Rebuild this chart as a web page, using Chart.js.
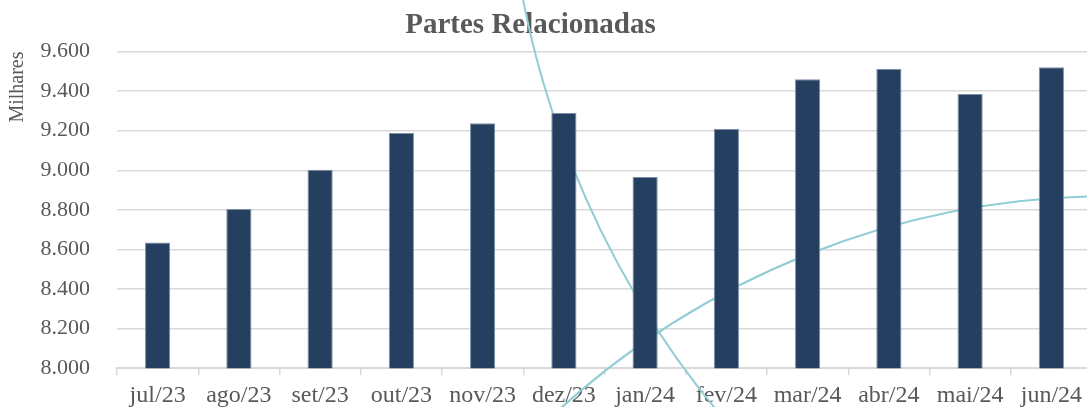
<!DOCTYPE html>
<html>
<head>
<meta charset="utf-8">
<script src="https://cdn.jsdelivr.net/npm/chart.js@4.4.1/dist/chart.umd.min.js"></script>
<style>
html,body{margin:0;padding:0;background:#fff;overflow:hidden}
#wrap{position:relative;width:1087px;height:407px;overflow:hidden}
#chart{position:absolute;left:-31px;top:0}
</style>
</head>
<body>
<div id="wrap"><canvas id="chart" width="1123" height="416"></canvas></div>
<script>
let meses = ["jul/23","ago/23","set/23","out/23","nov/23","dez/23","jan/24","fev/24","mar/24","abr/24","mai/24","jun/24"];
let valores = [8635, 8804, 9002, 9188, 9238, 9289, 8966, 9209, 9460, 9512, 9385, 9521];
let yMin = 8000, yMax = 9600, yPasso = 200;

const cinza = "#595959";
const serif = "'Liberation Serif', 'Times New Roman', serif";

function fmt(v){
  // 9600 -> "9.600"
  let s = Math.round(v).toString();
  return s.replace(/\B(?=(\d{3})+(?!\d))/g, ".");
}

// the two thin teal arcs in the background of the original picture
const arcos = {
  id: "arcos",
  beforeDatasetsDraw(c){
    const ctx = c.ctx;
    ctx.save();
    ctx.strokeStyle = "#91CDD4";
    ctx.lineWidth = 2;
    ctx.beginPath();
    ctx.arc(1464, -178, 927, 0, Math.PI*2);
    ctx.stroke();
    ctx.beginPath();
    ctx.arc(1143, 1018, 822, 0, Math.PI*2);
    ctx.stroke();
    ctx.restore();
  }
};

new Chart(document.getElementById("chart"), {
  type: "bar",
  data: {
    labels: meses,
    datasets: [{
      label: "Partes Relacionadas",
      data: valores,
      backgroundColor: "#243F60",
      borderColor: "#7d8ea6",
      borderWidth: 1,
      barPercentage: 0.31,
      categoryPercentage: 1
    }]
  },
  options: {
    responsive: false,
    devicePixelRatio: 1,
    animation: false,
    layout: { padding: { left: 0, right: 0, top: 0, bottom: 0 } },
    plugins: {
      legend: { display: false },
      tooltip: { enabled: false },
      title: {
        display: true,
        text: "Partes Relacionadas",
        color: cinza,
        font: { family: serif, size: 29, weight: "bold" },
        padding: { top: 8, bottom: 8.7 }
      }
    },
    scales: {
      x: {
        grid: { drawOnChartArea: false, drawTicks: true, tickLength: 7, color: "#D9D9D9", lineWidth: 1.5 },
        border: { color: "#D9D9D9", width: 2 },
        ticks: { color: cinza, font: { family: serif, size: 24 }, padding: 6, maxRotation: 0, autoSkip: false }
      },
      y: {
        min: yMin,
        max: yMax,
        grid: { color: "#D9D9D9", lineWidth: 1.5, drawTicks: false },
        border: { display: false },
        ticks: { stepSize: yPasso, color: cinza, font: { family: serif, size: 22 }, padding: 27, callback: v => fmt(v) },
        title: {
          display: true,
          text: "Milhares",
          align: "end",
          color: cinza,
          font: { family: serif, size: 20 },
          padding: { top: 37, bottom: -16.5 }
        }
      }
    }
  },
  plugins: [arcos]
});
</script>
</body>
</html>
